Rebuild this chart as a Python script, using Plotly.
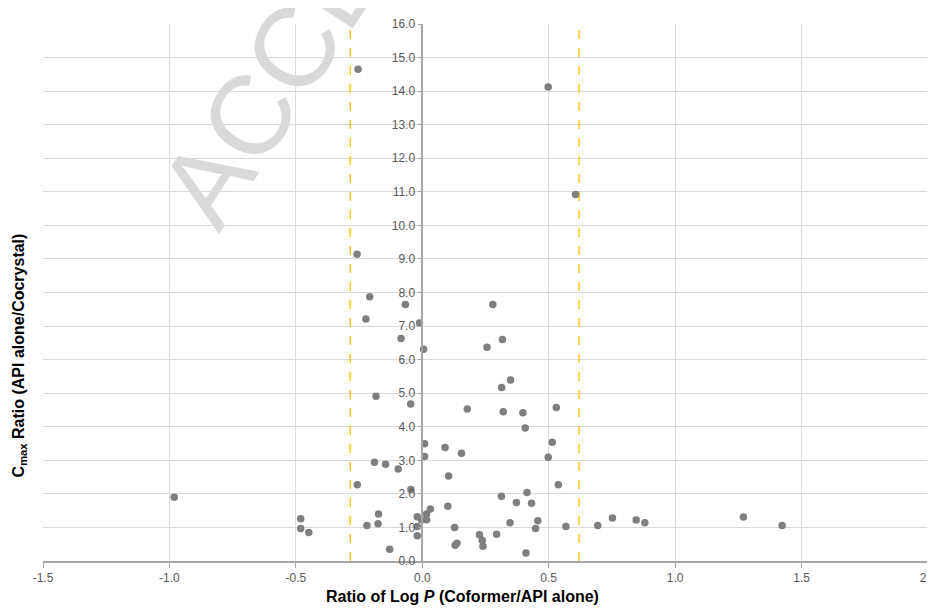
import plotly.graph_objects as go

# ---- data ----
logp_ratio = [
    -0.254, 0.498, 0.606, -0.258, -0.208, -0.223, -0.067, -0.011, -0.084, 0.005,
    -0.183, -0.046, 0.279, 0.256, 0.317, 0.349, 0.314, 0.178, 0.320, 0.398,
    0.407, 0.530, 0.514, 0.009, 0.009, 0.090, 0.155, -0.189, -0.145, -0.095,
    -0.257, -0.045, 0.104, 0.498, 0.538, 0.313, 0.414, 0.372, 0.432, 0.101,
    -0.173, -0.175, -0.219, -0.020, -0.020, -0.020, -0.003, 0.017, 0.017, 0.032,
    -0.129, 0.128, 0.130, 0.137, 0.226, 0.237, 0.240, 0.294, 0.347, 0.457,
    0.448, 0.410, 0.568, 0.694, 0.752, 0.846, 0.880, 1.270, 1.423, -0.981,
    -0.481, -0.481, -0.449,
]
cmax_ratio = [
    14.65, 14.12, 10.92, 9.14, 7.87, 7.21, 7.64, 7.09, 6.63, 6.31,
    4.91, 4.68, 7.64, 6.37, 6.60, 5.39, 5.17, 4.53, 4.45, 4.42,
    3.96, 4.57, 3.54, 3.49, 3.11, 3.38, 3.21, 2.94, 2.88, 2.74,
    2.27, 2.13, 2.53, 3.09, 2.27, 1.93, 2.04, 1.74, 1.72, 1.63,
    1.40, 1.11, 1.06, 1.32, 1.03, 0.75, 1.23, 1.23, 1.40, 1.55,
    0.35, 1.00, 0.47, 0.53, 0.78, 0.62, 0.44, 0.80, 1.14, 1.20,
    0.97, 0.24, 1.03, 1.06, 1.28, 1.22, 1.14, 1.31, 1.06, 1.90,
    1.26, 0.97, 0.85,
]
threshold_x = [-0.285, 0.62]
x_tickvals = [-1.5, -1.0, -0.5, 0.0, 0.5, 1.0, 1.5, 2.0]
x_ticktext = ["-1.5", "-1.0", "-0.5", "0.0", "0.5", "1.0", "1.5", "2.0"]
x_range = [-1.5, 2.0]
y_range = [0, 16]

FONT = "Arial, 'Liberation Sans', sans-serif"
AXIS_GRAY = "#a6a6a6"
GRID = "#d9d9d9"

fig = go.Figure()
fig.add_trace(go.Scatter(
    x=logp_ratio, y=cmax_ratio, mode="markers",
    marker=dict(color="#7f7f7f", size=7.5, line=dict(width=0)),
    showlegend=False, hoverinfo="x+y", cliponaxis=False,
))

shapes = []
for tx in threshold_x:
    shapes.append(dict(type="line", xref="x", yref="y", x0=tx, x1=tx,
                       y0=y_range[0], y1=y_range[1],
                       line=dict(color="#ffc000", width=1.3, dash="dash"),
                       layer="between"))

# position of the y axis line at x = 0 (paper fraction)
y_axis_pos = (0 - x_range[0]) / (x_range[1] - x_range[0])

# the page body adds an 8px offset, so the figure is 8px smaller than the window
fig.update_layout(
    width=927, height=607,
    margin=dict(l=34.5, r=7, t=15.5, b=53.5, autoexpand=False),
    paper_bgcolor="white", plot_bgcolor="white",
    font=dict(family=FONT, color="#595959", size=12),
    shapes=shapes,
    xaxis=dict(
        range=x_range, tickvals=x_tickvals, ticktext=x_ticktext,
        automargin=False, ticklabeloverflow="allow",
        showgrid=True, gridcolor=GRID, gridwidth=1,
        zeroline=False, showline=True, linecolor=AXIS_GRAY, linewidth=1.5,
        ticks="outside", ticklen=5, tickcolor=AXIS_GRAY, tickwidth=1,
        tickfont=dict(family=FONT, size=12, color="#595959"),
    ),
    yaxis=dict(
        range=y_range, dtick=1, tickformat=".1f",
        anchor="free", position=y_axis_pos, automargin=False,
        ticklabeloverflow="allow",
        showgrid=True, gridcolor=GRID, gridwidth=1,
        zeroline=False, showline=True, linecolor=AXIS_GRAY, linewidth=1.5,
        ticks="outside", ticklen=4, tickcolor=AXIS_GRAY, tickwidth=1,
        tickfont=dict(family=FONT, size=12, color="#595959"),
    ),
    annotations=[
        dict(text="ACCEPTED MANUSCRIPT", xref="paper", yref="paper",
             x=0.587, y=1.726, xanchor="center", yanchor="middle",
             textangle=-57, showarrow=False,
             font=dict(family=FONT, size=112, color="rgb(217,217,217)")),
        dict(text="<b>Ratio of Log <i>P</i> (Coformer/API alone)</b>",
             xref="paper", yref="paper", x=0.474, y=-0.066,
             xanchor="center", yanchor="middle", showarrow=False,
             font=dict(family=FONT, size=16, color="black")),
        dict(text="<b>C<sub>max</sub> Ratio (API alone/Cocrystal)</b>",
             xref="paper", yref="paper", x=-0.0265, y=0.382,
             xanchor="center", yanchor="middle", textangle=-90, showarrow=False,
             font=dict(family=FONT, size=16, color="black")),
    ],
)

fig.write_html("out.html")
